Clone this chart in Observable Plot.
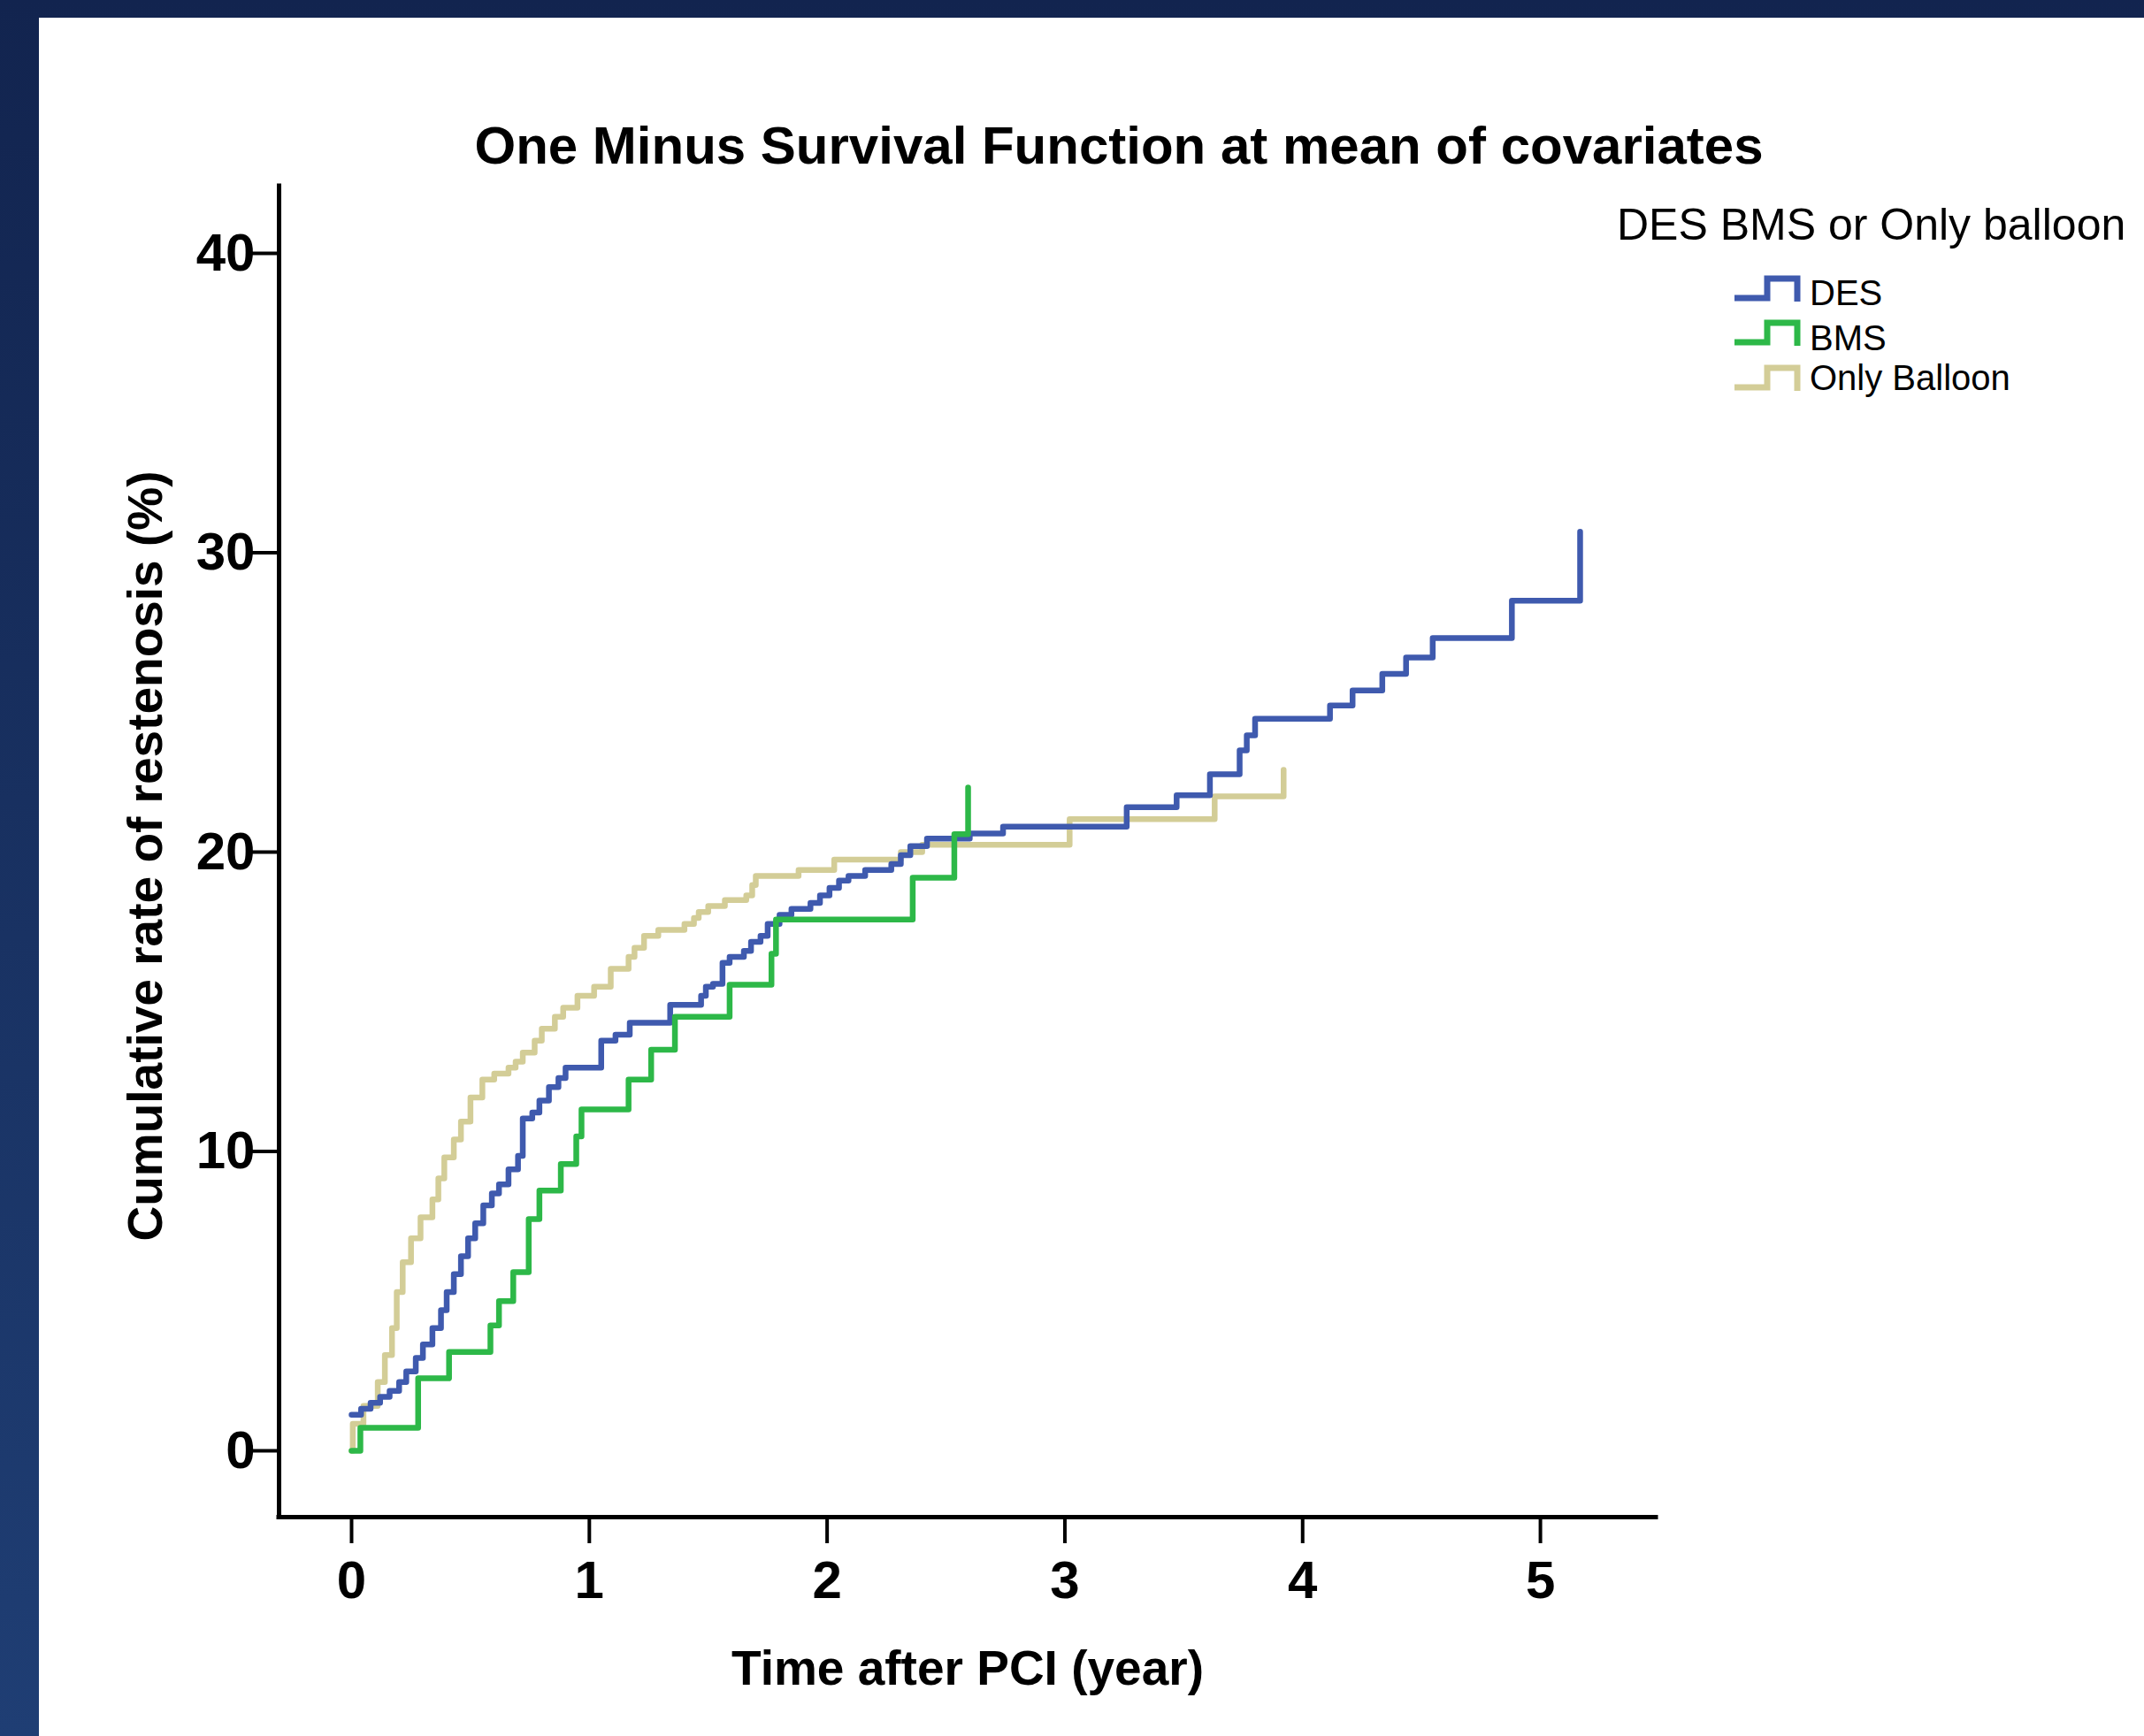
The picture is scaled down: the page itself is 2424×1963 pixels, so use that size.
<!DOCTYPE html>
<html>
<head>
<meta charset="utf-8">
<script src="https://cdn.jsdelivr.net/npm/d3@7"></script>
<script src="https://cdn.jsdelivr.net/npm/@observablehq/plot@0.6"></script>
<style>
html, body { margin: 0; padding: 0; }
body {
  width: 2424px; height: 1963px; overflow: hidden; position: relative;
  background: linear-gradient(to bottom, #12244f 0%, #1f3e74 100%);
  font-family: Arial, "Liberation Sans", sans-serif;
}
#panel { position: absolute; left: 44px; top: 20px; width: 2380px; height: 1943px; background: #ffffff; }
#panel svg { position: absolute; left: 0; top: 0; }
</style>
</head>
<body>
<div id="panel"></div>
<script>
// ---- Data ----
const titleText = "One Minus Survival Function at mean of covariates";
const xLabel = "Time after PCI (year)";
const yLabel = "Cumulative rate of restenosis (%)";
const legendTitle = "DES BMS or Only balloon";
const seriesNames = ["DES", "BMS", "Only Balloon"];
const seriesColors = ["#3f5aae", "#2db848", "#d3cd97"];
const xTicks = [0, 1, 2, 3, 4, 5];
const yTicks = [0, 10, 20, 30, 40];

// DES
const desX = [0, 0.04, 0.08, 0.12, 0.16, 0.20, 0.23, 0.27, 0.30, 0.34, 0.376, 0.40, 0.43, 0.46, 0.49, 0.52, 0.554, 0.59, 0.62, 0.66, 0.70, 0.72, 0.76, 0.79, 0.83, 0.87, 0.90, 1.05, 1.11, 1.17, 1.34, 1.47, 1.49, 1.52, 1.56, 1.59, 1.65, 1.68, 1.72, 1.75, 1.80, 1.85, 1.93, 1.97, 2.01, 2.05, 2.09, 2.16, 2.27, 2.31, 2.35, 2.42, 2.60, 2.74, 3.26, 3.47, 3.61, 3.735, 3.765, 3.80, 4.115, 4.21, 4.335, 4.435, 4.547, 4.88, 5.167];
const desY = [1.2, 1.4, 1.6, 1.8, 2.0, 2.3, 2.65, 3.1, 3.55, 4.1, 4.7, 5.3, 5.9, 6.5, 7.1, 7.6, 8.2, 8.6, 8.9, 9.4, 9.85, 11.1, 11.3, 11.7, 12.15, 12.45, 12.8, 13.7, 13.9, 14.3, 14.9, 15.2, 15.5, 15.6, 16.3, 16.5, 16.7, 17.0, 17.2, 17.6, 17.9, 18.1, 18.3, 18.55, 18.8, 19.05, 19.2, 19.4, 19.6, 19.9, 20.2, 20.45, 20.62, 20.85, 21.5, 21.9, 22.6, 23.4, 23.9, 24.45, 24.9, 25.4, 25.95, 26.5, 27.15, 28.4, 30.7];

// BMS
const bmsX = [0, 0.037, 0.28, 0.41, 0.584, 0.62, 0.68, 0.745, 0.79, 0.88, 0.945, 0.967, 1.165, 1.26, 1.36, 1.59, 1.766, 1.785, 2.36, 2.535, 2.593];
const bmsY = [0, 0.77, 2.42, 3.3, 4.19, 5.0, 5.97, 7.74, 8.69, 9.58, 10.5, 11.4, 12.4, 13.4, 14.5, 15.57, 16.6, 17.75, 19.14, 20.6, 22.16];

// Only Balloon
const balX = [0, 0.005, 0.05, 0.11, 0.14, 0.17, 0.19, 0.215, 0.25, 0.29, 0.34, 0.365, 0.39, 0.43, 0.46, 0.50, 0.55, 0.60, 0.66, 0.69, 0.72, 0.77, 0.80, 0.855, 0.89, 0.95, 1.02, 1.09, 1.165, 1.19, 1.23, 1.29, 1.40, 1.44, 1.46, 1.50, 1.57, 1.66, 1.685, 1.70, 1.88, 2.03, 2.31, 2.40, 3.02, 3.63, 3.92];
const balY = [0, 0.9, 1.5, 2.3, 3.2, 4.1, 5.3, 6.3, 7.1, 7.8, 8.4, 9.1, 9.8, 10.4, 11.0, 11.8, 12.4, 12.6, 12.8, 13.0, 13.3, 13.7, 14.1, 14.5, 14.8, 15.2, 15.5, 16.1, 16.5, 16.8, 17.2, 17.4, 17.6, 17.8, 18.0, 18.2, 18.4, 18.55, 18.9, 19.2, 19.4, 19.75, 20.0, 20.24, 21.1, 21.86, 22.75];

// ---- Build ----
const rows = (xs, ys) => xs.map((x, i) => ({x, y: ys[i]}));
const xDomain = [-0.305, 5.487];
const yDomain = [-2.216, 42.245];
const FONT = 'Arial, "Liberation Sans", sans-serif';

const chart = Plot.plot({
  width: 2380, height: 1943,
  marginLeft: 271, marginRight: 552, marginTop: 190, marginBottom: 248,
  style: {fontFamily: FONT, color: "#000", background: "transparent", overflow: "visible"},
  x: {domain: xDomain},
  y: {domain: yDomain},
  marks: [
    Plot.line(rows(balX, balY), {x: "x", y: "y", curve: "step-after", stroke: seriesColors[2], strokeWidth: 6.5}),
    Plot.line(rows(desX, desY), {x: "x", y: "y", curve: "step-after", stroke: seriesColors[0], strokeWidth: 6.5}),
    Plot.line(rows(bmsX, bmsY), {x: "x", y: "y", curve: "step-after", stroke: seriesColors[1], strokeWidth: 6.5}),
    Plot.ruleX([xDomain[0]], {stroke: "#000", strokeWidth: 5, strokeLinecap: "square"}),
    Plot.ruleY([yDomain[0]], {stroke: "#000", strokeWidth: 5, strokeLinecap: "square"}),
    Plot.axisX(xTicks, {anchor: "bottom", tickSize: 30, tickPadding: 19, fontSize: 60, fontWeight: "bold", strokeWidth: 4, label: null, tickFormat: d => String(d)}),
    Plot.axisY(yTicks, {anchor: "left", tickSize: 30, tickPadding: -3, fontSize: 60, fontWeight: "bold", strokeWidth: 4, label: null, tickFormat: d => String(d)}),
    Plot.text([xLabel], {text: d => d, frameAnchor: "bottom", dy: 172, fontSize: 55, fontWeight: "bold", lineAnchor: "middle", textAnchor: "middle"}),
    Plot.text([yLabel], {text: d => d, frameAnchor: "left", rotate: -90, dx: -150, dy: 5, fontSize: 55, fontWeight: "bold", lineAnchor: "middle", textAnchor: "middle"})
  ]
});

const svg = d3.select(chart);
svg.append("text")
  .attr("x", 1221).attr("y", 165)
  .attr("text-anchor", "middle")
  .style("font-family", FONT).style("font-size", "60px").style("font-weight", "bold")
  .attr("fill", "#000")
  .text(titleText);

const lg = svg.append("g").attr("text-anchor", "start");
lg.append("text")
  .attr("x", 1784).attr("y", 251)
  .attr("text-anchor", "start")
  .style("font-family", FONT).style("font-size", "50px")
  .attr("fill", "#000")
  .text(legendTitle);

const rowsY = [317, 367, 418];   // swatch low part per entry
const textY = [325, 376, 421];
seriesNames.forEach((name, i) => {
  const b = rowsY[i];
  lg.append("path")
    .attr("d", `M1917,${b} H1954 V${b - 22} H1988 V${b + 4}`)
    .attr("fill", "none").attr("stroke", seriesColors[i]).attr("stroke-width", 7);
  lg.append("text")
    .attr("x", 2002).attr("y", textY[i])
    .attr("text-anchor", "start")
    .style("font-family", FONT).style("font-size", "40px")
    .attr("fill", "#000")
    .text(name);
});

document.getElementById("panel").appendChild(chart);
</script>
</body>
</html>
